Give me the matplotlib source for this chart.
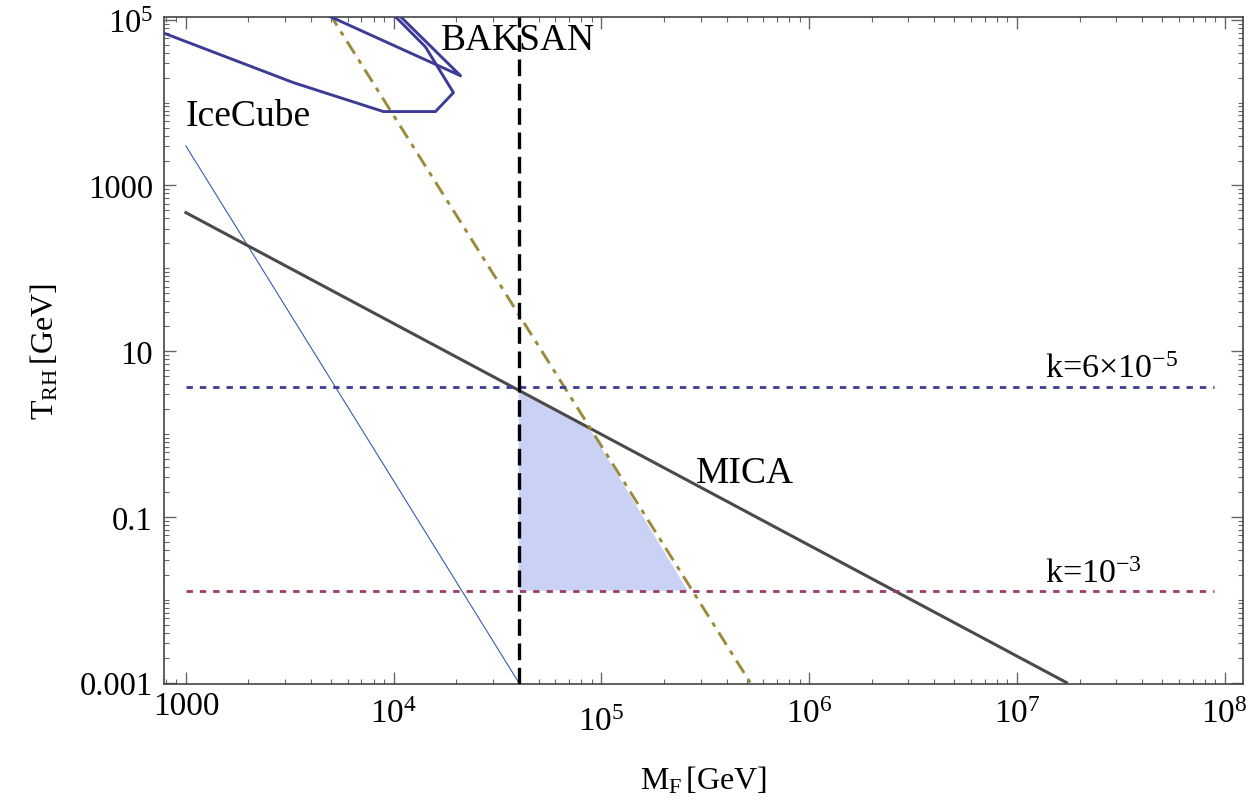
import matplotlib
matplotlib.use("Agg")
import matplotlib.pyplot as plt
from matplotlib.ticker import FixedLocator, LogLocator, NullFormatter, FixedFormatter
from matplotlib.transforms import ScaledTranslation

plt.rcParams['font.family'] = ['Liberation Serif', 'DejaVu Serif']
plt.rcParams['mathtext.fontset'] = 'custom'
plt.rcParams['mathtext.rm'] = 'Liberation Serif'
plt.rcParams['mathtext.it'] = 'Liberation Serif:italic'
plt.rcParams['mathtext.bf'] = 'Liberation Serif:bold'

# values
mica_M = [1.0e3, 1.73e7]
mica_T = [470.0, 1.0e-3]

icecube_lim_M = [1.0e3, 4.0e4]
icecube_lim_T = [3000.0, 1.0e-3]

dashdot_M = [4.9e3, 5.2e5]
dashdot_T = [1.2e5, 1.0e-3]

baksan_M = 4.0e4

k_M = [1.0e3, 8.9e7]
k_small_T = 3.68      # k = 6e-5
k_large_T = 0.0129    # k = 1e-3

icecube_a_M = [708, 3300, 8930, 1.59e4, 1.94e4, 1.42e4, 1.02e4, 8.8e3]
icecube_a_T = [7.6e4, 1.74e4, 7800, 7800, 1.32e4, 4.73e4, 1.09e5, 1.6e5]
icecube_b_M = [3.6e3, 4.96e3, 2.1e4, 1.08e4, 9.2e3]
icecube_b_T = [1.6e5, 1.09e5, 2.11e4, 1.09e5, 1.6e5]

allowed_M = [4.0e4, 8.8e4, 2.6e5, 4.0e4]
allowed_T = [3.4, 1.15, 0.0129, 0.0129]

xticks = [1e3, 1e4, 1e5, 1e6, 1e7, 1e8]
xtick_labels = ['1000', r'$\mathregular{10^{4}}$', r'$\mathregular{10^{5}}$',
                r'$\mathregular{10^{6}}$', r'$\mathregular{10^{7}}$', r'$\mathregular{10^{8}}$']
xtick_drop = [0, 7, 15, 7, 7, 7]   # staggered label offsets in px
yticks = [1e-3, 1e-1, 1e1, 1e3, 1e5]
ytick_labels = ['0.001', '0.1', '10', '1000', r'$\mathregular{10^{5}}$']

blue = '#3c3c96'
purple = '#9c3a70'
olive = '#9c8a3c'

fig = plt.figure(figsize=(12.58, 8.04), dpi=100)
ax = fig.add_axes([0.1304, 0.148, 0.858, 0.8296])
ax.set_xscale('log')
ax.set_yscale('log')

ax.fill(allowed_M, allowed_T, color='#c9d2f5', lw=0, zorder=1)

ax.plot(icecube_lim_M, icecube_lim_T, color='#3a5aad', lw=0.8, zorder=2)
ax.plot(mica_M, mica_T, color='#4a4a4a', lw=2.2, zorder=3)
ax.plot(dashdot_M, dashdot_T, color=olive, lw=2.1, dashes=(5.0, 2.4, 1.6, 2.4), zorder=3)
ax.plot(k_M, [k_small_T, k_small_T], color=blue, lw=2.0, dashes=(2.3, 2.5), zorder=3)
ax.plot(k_M, [k_large_T, k_large_T], color=purple, lw=2.0, dashes=(2.3, 2.5), zorder=3)
ax.axvline(baksan_M, color='black', lw=2.4, dashes=(5.0, 2.3), zorder=4)
ax.plot(icecube_a_M, icecube_a_T, color=blue, lw=2.1, zorder=3)
ax.plot(icecube_b_M, icecube_b_T, color=blue, lw=2.1, zorder=3)

ax.text(1.0e3, 5400, 'IceCube', fontsize=27, va='baseline', ha='left')
ax.text(1.68e4, 4.4e4, 'BAKSAN', fontsize=27, va='baseline', ha='left')
ax.text(2.85e5, 0.264, 'MICA', fontsize=27, va='baseline', ha='left')
ax.text(1.36e7, 4.86, r'k=6$\times$10$^{-5}$', fontsize=24.5, va='baseline', ha='left')
ax.text(1.36e7, 0.0165, r'k=10$^{-3}$', fontsize=24.5, va='baseline', ha='left')

ax.set_xlim(785, 1.23e8)
ax.set_ylim(9.6e-4, 1.08e5)

ax.xaxis.set_major_locator(FixedLocator(xticks))
ax.xaxis.set_major_formatter(FixedFormatter(xtick_labels))
ax.xaxis.set_minor_locator(LogLocator(base=10, subs=range(2, 10), numticks=20))
ax.xaxis.set_minor_formatter(NullFormatter())
ax.yaxis.set_major_locator(FixedLocator(yticks))
ax.yaxis.set_major_formatter(FixedFormatter(ytick_labels))
ax.yaxis.set_minor_locator(LogLocator(base=10, subs=range(1, 10), numticks=20))
ax.yaxis.set_minor_formatter(NullFormatter())

ax.tick_params(which='both', direction='in', top=True, right=True, color='#666666')
ax.tick_params(which='major', length=8.5, width=1.0)
ax.tick_params(which='minor', length=3.5, width=0.8)
ax.tick_params(axis='x', which='major', labelsize=24, pad=5)
ax.tick_params(axis='y', which='major', labelsize=23.5, pad=8)

for lbl, dy in zip(ax.get_xticklabels(), xtick_drop):
    lbl.set_transform(lbl.get_transform() + ScaledTranslation(0, -dy / 100, fig.dpi_scale_trans))

for sp in ax.spines.values():
    sp.set_color('#444444')
    sp.set_linewidth(1.2)

ax.set_xlabel(r'$\mathregular{M_{F}\,[GeV]}$', fontsize=23, labelpad=20)
ax.set_ylabel(r'$\mathregular{T_{RH}\,[GeV]}$', fontsize=23, labelpad=14)

fig.savefig('out.png', dpi=100)
